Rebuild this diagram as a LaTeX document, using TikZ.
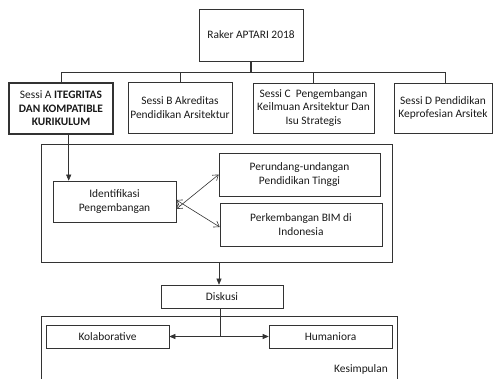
\documentclass[tikz,border=0pt]{standalone}
\usepackage{fontspec}
\setmainfont{Carlito}
\usetikzlibrary{arrows.meta}
\tikzset{
  box/.style={draw=black!80, line width=0.6pt, rectangle, inner sep=0pt, align=center, font=\fontsize{11.4}{13.6}\selectfont, text=black!90},
  conn/.style={draw=black!80, line width=0.6pt},
  arr/.style={conn, -{Triangle[length=6pt,width=5pt]}},
  barb/.style={conn, {Straight Barb[length=5pt,width=7pt]}-{Straight Barb[length=5pt,width=7pt]}},
  lbl/.style={inner sep=0pt, font=\fontsize{11.4}{13.6}\selectfont, text=black!90}
}
\begin{document}
\begin{tikzpicture}[x=1pt,y=-1pt]
\useasboundingbox (0,0) rectangle (493,379);
\clip (0,0) rectangle (493,379);
% containers
\node[box, minimum width=351pt, minimum height=118pt] (big) at (216.5,203) {};
\draw[conn] (41,390) -- (41,316) coordinate (bl) -- (397,316) coordinate (br) -- (397,390);
% top
\node[box, minimum width=104pt, minimum height=52pt] (raker) at (251,35) {Raker APTARI 2018};
\node[box, minimum width=104pt, minimum height=51pt, line width=1.3pt] (sa) at (61,108.5) {Sessi A \textbf{ITEGRITAS}\\\textbf{DAN KOMPATIBLE}\\\textbf{KURIKULUM}};
\node[box, minimum width=104pt, minimum height=51pt] (sb) at (180,107.5) {Sessi B Akreditas\\Pendidikan Arsitektur};
\node[box, minimum width=121pt, minimum height=50pt] (sc) at (313.5,108) {Sessi C\ \ Pengembangan\\Keilmuan Arsitektur Dan\\Isu Strategis};
\node[box, minimum width=98pt, minimum height=50pt] (sd) at (443,108) {Sessi D Pendidikan\\Keprofesian Arsitek};
% tree bus
\coordinate (bus) at (251,72);
\draw[conn, line width=1.3pt] (raker.south) -- (bus);
\draw[conn] (sa.north) -- (sa.north |- bus) -- ([xshift=2pt]sd.north |- bus) -- ([xshift=2pt]sd.north);
\draw[conn] (sb.north) -- (sb.north |- bus);
\draw[conn] (sc.north) -- (sc.north |- bus);
% inner box
\node[box, minimum width=123pt, minimum height=41pt] (id) at (114.5,201.5) {Identifikasi\\Pengembangan};
\node[box, minimum width=161pt, minimum height=43pt] (pu) at (299.5,174.5) {Perundang-undangan\\Pendidikan Tinggi};
\node[box, minimum width=162pt, minimum height=43pt] (bim) at (301,224.5) {Perkembangan BIM di\\Indonesia};
\draw[arr] ([xshift=16pt]id.north west |- sa.south) -- ([xshift=16pt]id.north west);
\draw[barb] ([yshift=-7.5pt]id.east) -- (pu.west);
\draw[barb] ([yshift=1.5pt]id.east) -- ([yshift=-2.5pt]bim.west);
% lower
\node[box, minimum width=122pt, minimum height=23pt] (dk) at (222,296.5) {Diskusi};
\draw[arr] ([xshift=-3pt]dk.north |- big.south) -- ([xshift=-3pt]dk.north);
\node[box, minimum width=123pt, minimum height=23pt] (kol) at (107.5,336.5) {Kolaborative};
\node[box, minimum width=123pt, minimum height=23pt] (hum) at (330.5,336.5) {Humaniora};
\coordinate (split) at ([xshift=-2pt]dk.south |- kol.east);
\draw[conn] ([xshift=-2pt]dk.south) -- (split);
\draw[arr] (split) -- (kol.east);
\draw[arr] (split) -- (hum.west);
\node[lbl, anchor=east] (kes) at (388,369) {Kesimpulan};
\end{tikzpicture}
\end{document}
